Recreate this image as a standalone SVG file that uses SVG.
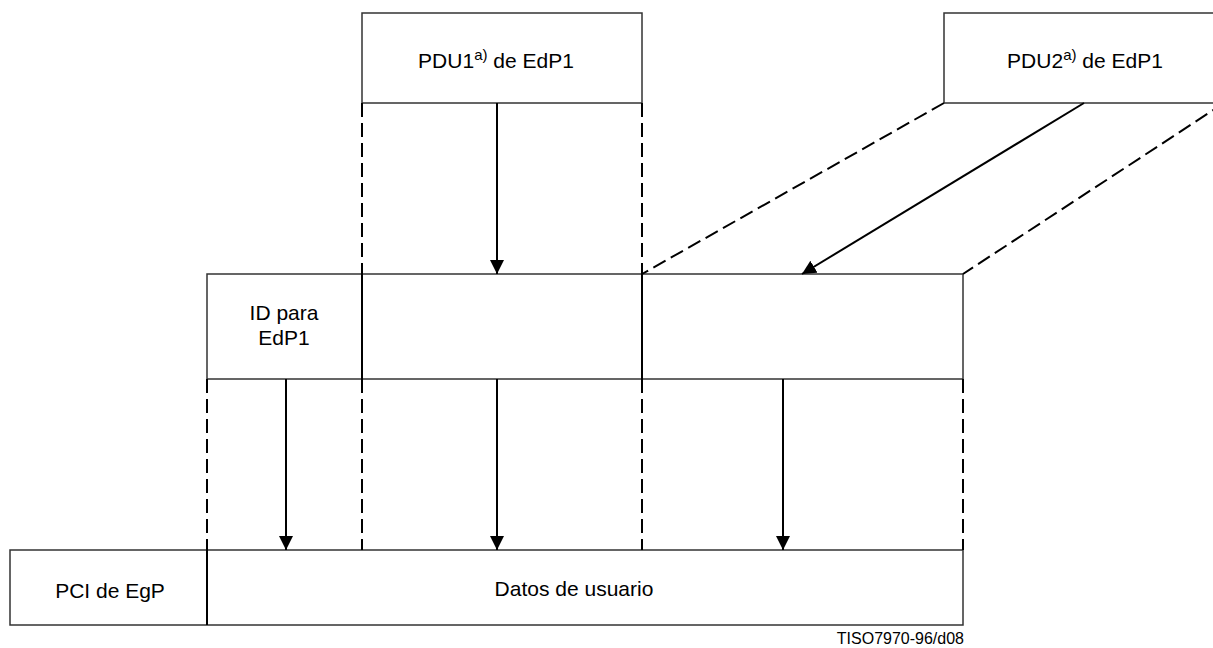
<svg xmlns="http://www.w3.org/2000/svg" width="1213" height="648" viewBox="0 0 1213 648">
  <style>
    .box { fill: #ffffff; stroke: #333333; stroke-width: 1.5; }
    .div { stroke: #000000; stroke-width: 2; fill: none; }
    .dash { stroke: #000000; stroke-width: 2; stroke-dasharray: 14 6; fill: none; }
    .arrow { stroke: #000000; stroke-width: 2; fill: none; marker-end: url(#head); }
    .lbl { font-family: "Liberation Sans", Arial, sans-serif; font-size: 21px; fill: #000000; text-anchor: middle; }
    .sup { font-size: 15px; }
    .ref { font-family: "Liberation Sans", Arial, sans-serif; font-size: 16px; fill: #000000; text-anchor: end; }
  </style>
  <defs>
    <marker id="head" viewBox="0 0 14 14" refX="14" refY="7" markerWidth="14" markerHeight="14" markerUnits="userSpaceOnUse" orient="auto">
      <path d="M0,0 L14,7 L0,14 Z" fill="#000000"/>
    </marker>
  </defs>
  <rect width="1213" height="648" fill="#ffffff"/>

  <!-- upper protocol data units -->
  <g id="pdu1">
    <rect class="box" x="362" y="13" width="280" height="90"/>
    <text class="lbl" x="496" y="68">PDU1<tspan class="sup" dy="-8">a)</tspan><tspan dy="8"> de EdP1</tspan></text>
  </g>
  <g id="pdu2">
    <rect class="box" x="944" y="13" width="280" height="90"/>
    <text class="lbl" x="1085" y="68">PDU2<tspan class="sup" dy="-8">a)</tspan><tspan dy="8"> de EdP1</tspan></text>
  </g>

  <!-- intermediate unit: identifier plus the two PDUs -->
  <g id="middle">
    <rect class="box" x="207" y="274" width="756" height="105"/>
    <line class="div" x1="362" y1="274" x2="362" y2="379"/>
    <line class="div" x1="642" y1="274" x2="642" y2="379"/>
    <text class="lbl" x="284" y="320">ID para</text>
    <text class="lbl" x="284" y="345">EdP1</text>
  </g>

  <!-- lower unit -->
  <g id="bottom">
    <rect class="box" x="10" y="550" width="953" height="75"/>
    <line class="div" x1="207" y1="550" x2="207" y2="625"/>
    <text class="lbl" x="110" y="598">PCI de EgP</text>
    <text class="lbl" x="574" y="596">Datos de usuario</text>
  </g>

  <g id="connectors">
    <!-- projection guides -->
    <line class="dash" x1="362" y1="103" x2="362" y2="274"/>
    <line class="dash" x1="642" y1="103" x2="642" y2="274"/>
    <line class="dash" x1="944" y1="103" x2="642" y2="274"/>
    <line class="dash" x1="1224" y1="103" x2="963" y2="274"/>
    <line class="dash" x1="207" y1="379" x2="207" y2="550"/>
    <line class="dash" x1="362" y1="379" x2="362" y2="550"/>
    <line class="dash" x1="642" y1="379" x2="642" y2="550"/>
    <line class="dash" x1="963" y1="379" x2="963" y2="550"/>
    <!-- mapping arrows -->
    <line class="arrow" x1="497" y1="103" x2="497" y2="274"/>
    <line class="arrow" x1="1084" y1="103" x2="802" y2="274"/>
    <line class="arrow" x1="286" y1="379" x2="286" y2="550"/>
    <line class="arrow" x1="497" y1="379" x2="497" y2="550"/>
    <line class="arrow" x1="783" y1="379" x2="783" y2="550"/>
  </g>

  <text class="ref" x="964" y="644">TISO7970-96/d08</text>
</svg>
